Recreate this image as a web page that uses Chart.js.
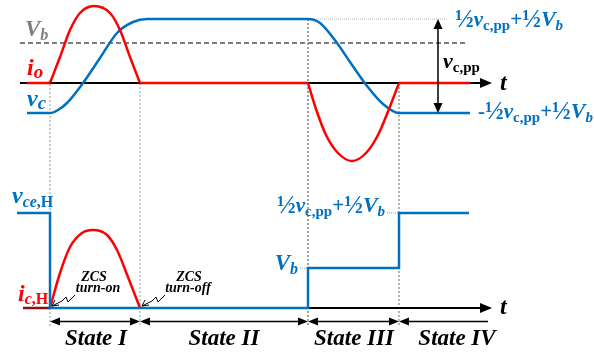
<!DOCTYPE html>
<html lang="en">
<head>
<meta charset="utf-8" />
<title>ZCS resonant waveforms</title>
<style>
html, body { margin: 0; padding: 0; background: #fff; }
#myChart { display: block; }
</style>
</head>
<body>
<canvas id="myChart" width="594" height="354"></canvas>
<script src="https://cdn.jsdelivr.net/npm/chart.js"></script>
<script>
// time marks (x axis units) where the states start / end
const stateEdges = [50, 140, 308, 399, 488];
const stateNames = ['State I', 'State II', 'State III', 'State IV'];

// upper plot: resonant current io and capacitor voltage vc
const ioPosT = [50, 60, 70, 80, 94, 110, 120, 130, 140];
const ioPosV = [0, 2.6, 5.3, 7.0, 7.7, 7.0, 5.3, 2.6, 0];
const ioNegT = [308, 316, 326, 338, 352, 366, 378, 389, 399];
const ioNegV = [0, -2.6, -5.2, -7.0, -7.8, -7.0, -5.2, -2.6, 0];
const ioFlat = [[27, 50], [140, 308], [399, 470]];
const vcT = [27, 50, 58, 67, 83, 100, 117, 133, 147, 308, 320, 337, 350, 367, 383, 399, 470];
const vcV = [-3.0, -3.0, -2.7, -2.0, 0, 2.5, 5.0, 6.1, 6.4, 6.4, 6.0, 4.0, 2.1, -0.3, -2.1, -3.0, -3.0];
const vbLevel = 4.0;
const vcHigh = 6.4;
const vcLow = -3.0;

// lower plot: switch current ic,H and voltage vce,H
const icT = [50, 60, 70, 82, 93, 107, 117, 128, 140];
const icV = [0, 3.5, 6.1, 7.5, 7.8, 7.3, 5.8, 3.1, 0];
const vceT = [17, 50, 50, 308, 308, 399, 399, 469];
const vceV = [9.5, 9.5, 0, 0, 4.0, 4.0, 9.5, 9.5];

const RED = '#ff0000', BLUE = '#0070c0', GRAY = '#7f7f7f';
const SERIF = '"Liberation Serif", "Times New Roman", serif';

function line(ts, vs, axis, style) {
  return Object.assign({
    data: ts.map((t, i) => ({x: t, y: vs[i]})),
    yAxisID: axis,
    borderColor: '#000',
    borderWidth: 2,
    pointRadius: 0,
    fill: false,
    tension: 0,
    clip: false
  }, style);
}

// painting order: first = bottom
let layers = [];
// state boundaries (dotted)
layers.push(line([50, 50], [0.3, -24.3], 'yT', {borderColor: '#9a9a9a', borderWidth: 1, borderDash: [2, 2]}));
layers.push(line([140, 140], [0, -24.3], 'yT', {borderColor: '#9a9a9a', borderWidth: 1, borderDash: [2, 2]}));
layers.push(line([308, 308], [vcHigh, -24.3], 'yT', {borderColor: '#444', borderWidth: 1, borderDash: [2, 2]}));
layers.push(line([399, 399], [0, -24.3], 'yT', {borderColor: '#9a9a9a', borderWidth: 1.5, borderDash: [2, 2]}));
// Vb dashed and reference dotted lines
layers.push(line([20, 467], [vbLevel, vbLevel], 'yT', {borderColor: GRAY, borderWidth: 2, borderDash: [5, 3]}));
layers.push(line([308, 447], [vcHigh, vcHigh], 'yT', {borderColor: '#b0b0b0', borderWidth: 1, borderDash: [1, 1]}));
layers.push(line([300, 308], [4.0, 4.0], 'yB', {borderColor: '#a0a0a0', borderWidth: 1, borderDash: [1, 1]}));
layers.push(line([387, 399], [9.5, 9.5], 'yB', {borderColor: '#a0a0a0', borderWidth: 1, borderDash: [1, 1]}));
// time axes
layers.push(line([20, 486], [0, 0], 'yT', {borderColor: '#000', borderWidth: 2}));
layers.push(line([23, 486], [0, 0], 'yB', {borderColor: '#000', borderWidth: 2}));
// lower waveforms
layers.push(line([23, 50], [0, 0], 'yB', {borderColor: '#8b1010', borderWidth: 2.5}));
layers.push(line(icT, icV, 'yB', {borderColor: RED, borderWidth: 2.5, cubicInterpolationMode: 'monotone'}));
layers.push(line(vceT, vceV, 'yB', {borderColor: BLUE, borderWidth: 2.5, borderJoinStyle: 'miter'}));
// upper waveforms
layers.push(line(vcT, vcV, 'yT', {borderColor: BLUE, borderWidth: 2.5, cubicInterpolationMode: 'monotone'}));
ioFlat.forEach(s => layers.push(line(s, [0, 0], 'yT', {borderColor: RED, borderWidth: 2.5})));
layers.push(line(ioPosT, ioPosV, 'yT', {borderColor: RED, borderWidth: 2.5, cubicInterpolationMode: 'monotone'}));
layers.push(line(ioNegT, ioNegV, 'yT', {borderColor: RED, borderWidth: 2.5, cubicInterpolationMode: 'monotone'}));
// vc,pp measure line and state arrows
layers.push(line([438, 438], [vcHigh - 0.8, vcLow + 0.8], 'yT', {borderColor: '#000', borderWidth: 1.5}));
for (let i = 0; i < stateNames.length; i++) {
  const a = stateEdges[i] + 6, b = i < 3 ? stateEdges[i + 1] - 6 : stateEdges[i + 1];
  layers.push(line([a, b], [-1.35, -1.35], 'yB', {borderColor: '#000', borderWidth: 1.5}));
}

function head(ctx, x, y, dx, dy, len, half) {
  const px = -dy, py = dx;
  ctx.beginPath();
  ctx.moveTo(x, y);
  ctx.lineTo(x - dx * len + px * half, y - dy * len + py * half);
  ctx.lineTo(x - dx * len - px * half, y - dy * len - py * half);
  ctx.closePath();
  ctx.fill();
}

function rich(ctx, x, y, parts, align, color) {
  let w = 0;
  parts.forEach(p => { ctx.font = p[1]; w += ctx.measureText(p[0]).width; });
  let cx = align === 'right' ? x - w : (align === 'center' ? x - w / 2 : x);
  ctx.fillStyle = color;
  ctx.textAlign = 'left';
  ctx.textBaseline = 'alphabetic';
  parts.forEach(p => {
    ctx.font = p[1];
    ctx.fillText(p[0], cx, y + (p[2] || 0));
    cx += ctx.measureText(p[0]).width;
  });
}

function squiggle(ctx, x, y) {
  ctx.strokeStyle = '#000';
  ctx.lineWidth = 1;
  ctx.beginPath();
  ctx.moveTo(x, y);
  ctx.lineTo(x + 10, y - 5);
  ctx.lineTo(x + 14, y - 9);
  ctx.lineTo(x + 16, y - 4);
  ctx.lineTo(x + 23, y - 11);
  ctx.stroke();
  ctx.beginPath();
  ctx.moveTo(x + 7, y - 1);
  ctx.lineTo(x, y);
  ctx.lineTo(x + 3, y - 6);
  ctx.stroke();
}

const bi = s => 'italic bold ' + s + 'px ' + SERIF;
const bd = s => 'bold ' + s + 'px ' + SERIF;
const halfExpr = [['½', bd(25), 1], ['v', bi(21)], ['c,pp', bd(15), 4], ['+', bd(21)], ['½', bd(25), 1], ['V', bi(22)], ['b', bi(15), 4]];

const overlay = {
  id: 'overlay',
  afterDatasetsDraw(chart) {
    const ctx = chart.ctx;
    const X = v => chart.scales.x.getPixelForValue(v);
    const YT = v => chart.scales.yT.getPixelForValue(v);
    const YB = v => chart.scales.yB.getPixelForValue(v);
    ctx.save();
    ctx.fillStyle = '#000';
    // axis arrows
    head(ctx, X(492), YT(0), 1, 0, 12, 5);
    head(ctx, X(492), YB(0), 1, 0, 12, 5);
    // vc,pp double arrow
    head(ctx, X(438), YT(vcHigh), 0, -1, 10, 4.5);
    head(ctx, X(438), YT(vcLow), 0, 1, 10, 4.5);
    // state arrows
    for (let i = 0; i < stateNames.length; i++) {
      head(ctx, X(stateEdges[i]), YB(-1.35), -1, 0, 10, 4);
      if (i < 3) head(ctx, X(stateEdges[i + 1]), YB(-1.35), 1, 0, 10, 4);
    }
    squiggle(ctx, X(52), YB(0.2));
    squiggle(ctx, X(142), YB(0.2));

    // upper plot labels
    rich(ctx, X(25), YT(4.7), [['V', bi(23)], ['b', bi(16), 4]], 'left', GRAY);
    rich(ctx, X(27), YT(0.8), [['i', bi(24)], ['o', bi(19), 3]], 'left', RED);
    rich(ctx, X(27), YT(-2.3), [['v', bi(24)], ['c', bi(19), 3]], 'left', BLUE);
    rich(ctx, X(443), YT(1.5), [['v', bi(22)], ['c,pp', bd(15), 4]], 'left', '#000');
    rich(ctx, X(455), YT(5.7), halfExpr, 'left', BLUE);
    rich(ctx, X(478), YT(-3.5), [['-', bd(21)]].concat(halfExpr), 'left', BLUE);
    rich(ctx, X(500), YT(-0.7), [['t', bi(24)]], 'left', '#000');

    // lower plot labels
    rich(ctx, X(12), YB(10.5), [['v', bi(24)], ['ce', bi(16), 4], [',H', bd(16), 4]], 'left', BLUE);
    rich(ctx, X(18), YB(0.7), [['i', bi(24)], ['c', bi(16), 3], [',H', bd(16), 3]], 'left', RED);
    const small = 'italic bold 14px ' + SERIF;
    rich(ctx, X(94), YB(2.7), [['ZCS', small]], 'center', '#000');
    rich(ctx, X(98), YB(1.6), [['turn-on', small]], 'center', '#000');
    rich(ctx, X(189), YB(2.7), [['ZCS', small]], 'center', '#000');
    rich(ctx, X(188), YB(1.6), [['turn-off', small]], 'center', '#000');
    rich(ctx, X(298), YB(3.8), [['V', bi(23)], ['b', bi(16), 4]], 'right', BLUE);
    rich(ctx, X(277), YB(9.6), halfExpr, 'left', BLUE);
    rich(ctx, X(500), YB(-0.6), [['t', bi(24)]], 'left', '#000');
    const stateX = [96, 224, 354, 457];
    stateNames.forEach((s, i) => rich(ctx, X(stateX[i]), YB(-3.7), [[s, bi(23)]], 'center', '#000'));
    ctx.restore();
  }
};

new Chart(document.getElementById('myChart'), {
  type: 'line',
  data: {datasets: layers.slice().reverse()},
  options: {
    responsive: false,
    animation: false,
    devicePixelRatio: 1,
    events: [],
    layout: {padding: 0},
    plugins: {legend: {display: false}, tooltip: {enabled: false}},
    scales: {
      x: {type: 'linear', min: 0, max: 594, display: false},
      yT: {type: 'linear', axis: 'y', min: -27.1, max: 8.3, display: false},
      yB: {type: 'linear', axis: 'y', min: -4.6, max: 30.8, display: false}
    }
  },
  plugins: [overlay]
});
</script>
</body>
</html>
